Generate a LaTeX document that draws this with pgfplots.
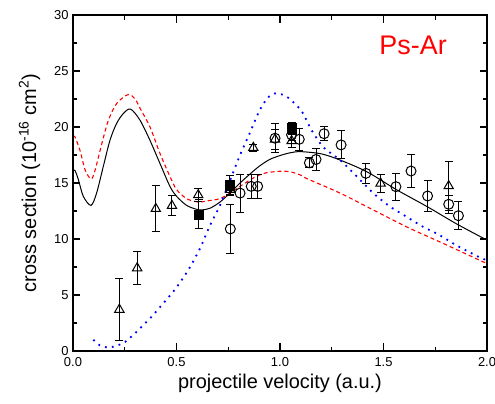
\documentclass[border=0pt]{standalone}
\usepackage{fontspec}
\setmainfont{Liberation Sans}
\usepackage{pgfplots}
\pgfplotsset{compat=1.18}
\begin{document}
\begin{tikzpicture}
\begin{axis}[
  scale only axis, width=414bp, height=336bp,
  xmin=0, xmax=2, ymin=0, ymax=30,
  xtick={0,0.5,1,1.5,2}, xticklabels={0.0,0.5,1.0,1.5,2.0},
  minor xtick={0.25,0.75,1.25,1.75},
  ytick={0,5,10,15,20,25,30}, minor ytick={2.5,7.5,12.5,17.5,22.5,27.5},
  tick align=inside, major tick length=7.5bp, minor tick length=4.5bp,
  xtick pos=both, ytick pos=both,
  tick style={black, line width=1.1bp},
  axis on top,
  axis line style={line width=1.2bp},
  ticklabel style={font=\fontsize{13}{15}\selectfont},
  x tick label style={yshift=-3bp},
  y tick label style={xshift=-1bp},
  /pgf/number format/assume math mode=true,
  xlabel={projectile velocity (a.u.)},
  ylabel={cross section (10\textsuperscript{-16} cm\textsuperscript{2})},
  every axis x label/.style={at={(axis description cs:0.5,-0.095)}, anchor=center, font=\fontsize{20}{24}\selectfont},
  every axis y label/.style={at={(axis description cs:-0.105,0.5)}, rotate=90, anchor=center, font=\fontsize{20}{24}\selectfont},
]
% black solid theory
\addplot[black, line width=1bp, smooth, tension=0.5] coordinates {
(0,16.15) (0.01,16.1) (0.026,15.3) (0.05,13.8) (0.087,13.0) (0.114,14.1) (0.146,16.45)
(0.179,18.84) (0.211,20.33) (0.243,21.2) (0.278,21.6) (0.324,20.6) (0.372,18.8) (0.42,16.75)
(0.469,14.67) (0.501,13.8) (0.549,13.0) (0.597,12.65) (0.625,12.6) (0.662,12.75) (0.71,13.3)
(0.758,14.1) (0.807,15.0) (0.855,15.8) (0.90,16.5) (0.95,17.1) (1.0,17.45) (1.05,17.7)
(1.1,17.8) (1.2,17.6) (1.29,17.05) (1.42,16.0) (1.563,14.4) (1.71,12.9) (1.853,11.35) (2.0,9.9)
};
% red dashed theory
\addplot[red, line width=1.1bp, dash pattern=on 4bp off 3bp, smooth, tension=0.5] coordinates {
(0,19.2) (0.01,19.1) (0.034,17.9) (0.058,16.2) (0.087,15.35) (0.106,16.1) (0.139,18.5)
(0.171,20.6) (0.211,22.1) (0.267,22.9) (0.30,22.5) (0.324,21.67) (0.372,20.0) (0.42,17.65)
(0.469,15.56) (0.501,14.4) (0.549,13.6) (0.605,13.3) (0.646,13.4) (0.71,13.6) (0.758,14.1)
(0.84,15.1) (0.887,15.6) (0.93,15.9) (1.0,16.05) (1.05,16.0) (1.1,15.7) (1.129,15.4)
(1.29,14.1) (1.45,12.6) (1.61,11.1) (1.77,9.76) (1.93,8.4) (2.0,7.8)
};
% blue dotted theory
\addplot[blue, line width=1.8bp, dash pattern=on 1.8bp off 5.2bp, smooth, tension=0.4] coordinates {
(0.098,1.0) (0.13,0.5) (0.163,0.32) (0.20,0.4) (0.251,0.8) (0.308,1.73) (0.38,3.07)
(0.436,4.26) (0.493,5.5) (0.557,7.23) (0.614,9.17) (0.659,11.1) (0.71,13.0) (0.758,15.2)
(0.807,17.5) (0.855,19.5) (0.899,21.4) (0.94,22.6) (0.976,23.0) (1.01,22.9) (1.048,22.5)
(1.105,21.4) (1.153,19.7) (1.209,18.2) (1.29,17.05) (1.37,15.6) (1.45,14.1) (1.531,12.9)
(1.61,12.0) (1.69,11.1) (1.77,10.36) (1.85,9.46) (1.96,8.4) (2.0,8.1)
};
% open circles
\addplot[black, only marks, mark=o, mark size=5bp, mark options={line width=1bp},
  error bars/.cd, y dir=both, y explicit,
  error bar style={line width=1bp},
  error mark options={rotate=90, mark size=4bp, line width=1bp}]
  table[x=x, y=y, y error=e] {
x y e
0.76 10.9 2.2
0.807 14.1 1.7
0.861 14.7 1.1
0.892 14.7 1.1
0.976 19.0 1.3
1.056 19.3 0.5
1.093 18.9 1.0
1.142 16.8 0.45
1.174 17.1 1.0
1.213 19.4 0.6
1.295 18.4 1.25
1.415 15.86 0.9
1.56 14.67 1.2
1.633 16.07 1.5
1.713 13.84 1.35
1.815 13.1 0.8
1.862 12.08 1.25
};
% open triangles
\addplot[black, only marks, mark=triangle, mark size=5.4bp, mark options={line width=1bp},
  error bars/.cd, y dir=both, y explicit,
  error bar style={line width=1bp},
  error mark options={rotate=90, mark size=4bp, line width=1bp}]
  table[x=x, y=y, y error=e] {
x y e
0.224 3.7 2.75
0.31 7.4 1.45
0.40 12.7 2.05
0.478 12.97 0.9
0.605 13.93 0.55
0.76 14.4 0.5
0.871 18.15 0.3
0.976 18.9 0.9
1.056 18.75 0.6
1.486 14.97 0.8
1.815 14.73 2.2
};
% filled squares
\addplot[black, only marks, mark=square*, mark size=4.6bp,
  error bars/.cd, y dir=both, y explicit,
  error bar style={line width=1bp},
  error mark options={rotate=90, mark size=4bp, line width=1bp}]
  table[x=x, y=y, y error=e] {
x y e
0.607 12.2 1.3
0.758 14.8 0.85
1.056 19.9 0.5
};
\node[red, font=\fontsize{27}{30}\selectfont] at (axis cs:1.643,27.3) {Ps-Ar};
\end{axis}
\pgfresetboundingbox
\path[use as bounding box] ([xshift=-73bp,yshift=-53bp]current axis.south west) rectangle ++(495bp,404bp);
\end{tikzpicture}
\end{document}
